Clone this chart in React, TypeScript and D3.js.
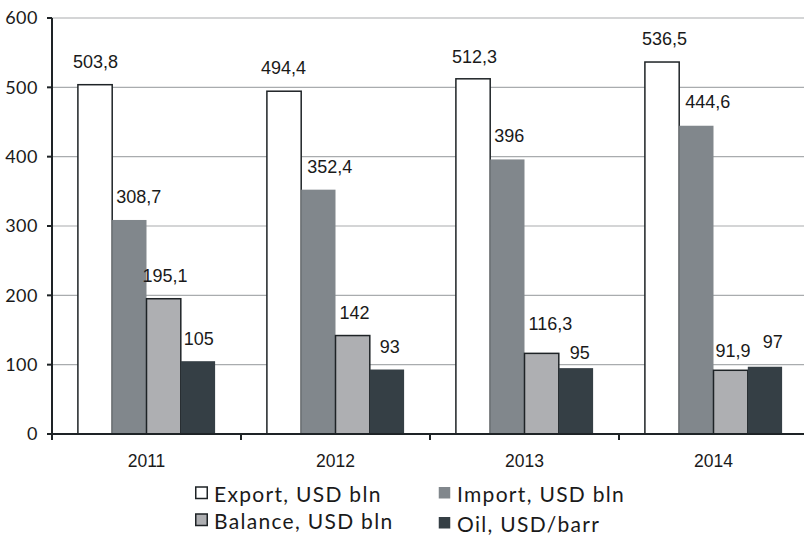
import React, { useEffect } from "react";
import * as d3 from "d3";

const years = ["2011", "2012", "2013", "2014"];
const seriesNames = ["Export, USD bln", "Import, USD bln", "Balance, USD bln", "Oil, USD/barr"];
const exportVals = [503.8, 494.4, 512.3, 536.5];
const importVals = [308.7, 352.4, 396, 444.6];
const balanceVals = [195.1, 142, 116.3, 91.9];
const oilVals = [105, 93, 95, 97];
const valueLabels = [
  ["503,8", "494,4", "512,3", "536,5"],
  ["308,7", "352,4", "396", "444,6"],
  ["195,1", "142", "116,3", "91,9"],
  ["105", "93", "95", "97"],
];
const yTicks = [0, 100, 200, 300, 400, 500, 600];

// layout-only: manual label nudges (dx from bar left, rise above bar top)
const labelDx = [
  [-5, -6, -4, -3],
  [4, 6, 4, 6],
  [-4, 4, 4, 2],
  [3, 10, 11, 15],
];
const labelRise = [
  [17, 17, 16, 17],
  [17, 17, 17.5, 18],
  [17, 17, 23, 13],
  [16, 17, 9, 19],
];

const W = 804;
const H = 537;
const left = 52;
const right = 808;
const top = 18;
const bottom = 434;

const fills = ["#ffffff", "#81878c", "#aeafb2", "#353f45"];
const strokes = ["#1e2326", "none", "#1e2326", "none"];

export default function App() {
  useEffect(() => {
    document.body.style.margin = "0";
  }, []);

  const values = [exportVals, importVals, balanceVals, oilVals];
  const x0 = d3.scaleBand<string>().domain(years).range([left, right]).paddingInner(0).paddingOuter(0);
  const x1 = d3
    .scaleBand<string>()
    .domain(seriesNames)
    .range([0, x0.bandwidth()])
    .paddingInner(0)
    .paddingOuter(0.755);
  const y = d3.scaleLinear().domain([0, 600]).range([bottom, top]);

  const bandEdges = years.map((yr) => x0(yr)!).concat([right]);

  const numFont = "'Liberation Sans', Arial, sans-serif";
  const geoFont = "Lato, 'Open Sans', sans-serif";

  const legendItems = [
    { i: 0, x: 195, base: 502 },
    { i: 1, x: 438, base: 502 },
    { i: 2, x: 195, base: 529 },
    { i: 3, x: 438, base: 532 },
  ];

  return (
    <svg width={W} height={H} style={{ display: "block", background: "#fff" }}>
      {/* gridlines */}
      {yTicks
        .filter((t) => t > 0)
        .map((t) => (
          <line key={"g" + t} x1={left} x2={W} y1={y(t)} y2={y(t)} stroke="#a9acae" strokeWidth={1.2} />
        ))}
      {/* bars */}
      {years.map((yr, j) =>
        seriesNames.map((s, i) => {
          const bx = x0(yr)! + x1(s)!;
          const by = y(values[i][j]);
          return (
            <rect
              key={yr + s}
              x={bx}
              y={by}
              width={x1.bandwidth()}
              height={bottom - by}
              fill={fills[i]}
              stroke={strokes[i]}
              strokeWidth={1.5}
            />
          );
        })
      )}
      {/* value labels */}
      {years.map((yr, j) =>
        seriesNames.map((s, i) => {
          const bx = x0(yr)! + x1(s)!;
          const by = y(values[i][j]);
          return (
            <text
              key={"l" + yr + s}
              x={bx + labelDx[i][j]}
              y={by - labelRise[i][j]}
              fontFamily={numFont}
              fontSize={18}
              fill="#1a1a1a"
            >
              {valueLabels[i][j]}
            </text>
          );
        })
      )}
      {/* y axis */}
      <line x1={left} x2={left} y1={top} y2={bottom} stroke="#1e2326" strokeWidth={2} />
      {yTicks.map((t) => (
        <g key={"t" + t}>
          <line x1={left - 5} x2={left} y1={y(t)} y2={y(t)} stroke="#1e2326" strokeWidth={2} />
          <text
            x={38}
            y={y(t)}
            dy="0.36em"
            textAnchor="end"
            fontFamily={geoFont}
            fontSize={18}
            letterSpacing={0.5}
            fill="#1a1a1a"
          >
            {t}
          </text>
        </g>
      ))}
      {/* x axis */}
      <line x1={left - 5} x2={W} y1={bottom} y2={bottom} stroke="#1e2326" strokeWidth={2} />
      {bandEdges.map((e, k) => (
        <line key={"xt" + k} x1={e} x2={e} y1={bottom} y2={bottom + 6} stroke="#1e2326" strokeWidth={2} />
      ))}
      {years.map((yr) => (
        <text
          key={"xl" + yr}
          x={x0(yr)! + x0.bandwidth() / 2}
          y={467}
          textAnchor="middle"
          fontFamily={numFont}
          fontSize={17.5}
          fill="#1a1a1a"
        >
          {yr}
        </text>
      ))}
      {/* legend */}
      {legendItems.map(({ i, x, base }) => (
        <g key={"lg" + i}>
          <rect
            x={x + 0.75}
            y={base - 15}
            width={11.5}
            height={11.5}
            fill={fills[i]}
            stroke={i === 0 || i === 2 ? "#1e2326" : "none"}
            strokeWidth={1.5}
          />
          <text
            x={x + 19}
            y={base}
            fontFamily={geoFont}
            fontSize={21}
            letterSpacing={1.3}
            fill="#1a1a1a"
          >
            {seriesNames[i]}
          </text>
        </g>
      ))}
    </svg>
  );
}
